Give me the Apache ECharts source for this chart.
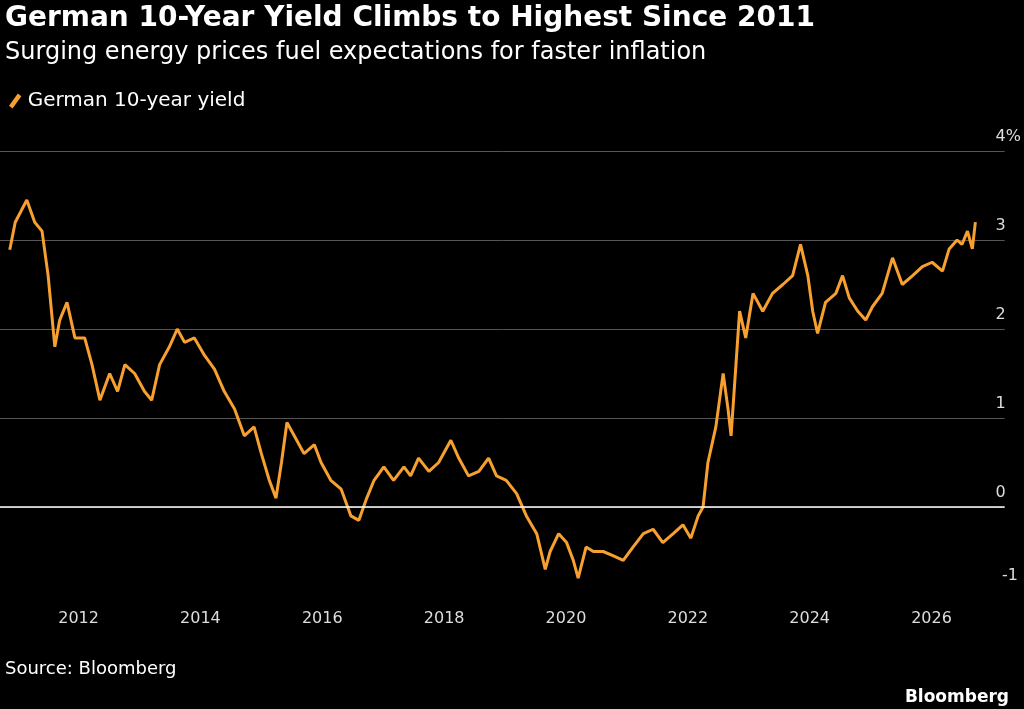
<!DOCTYPE html>
<html><head><meta charset="utf-8">
<script src="https://cdn.jsdelivr.net/npm/echarts@6/dist/echarts.min.js"></script>
<style>body{margin:0;background:#000}#c{width:1024px;height:709px}</style>
</head><body><div id="c"></div>
<script>
// decimal year, yield %
var years = [2010.87,2010.96,2011.15,2011.28,2011.40,2011.50,2011.61,2011.69,2011.81,2011.94,
  2012.10,2012.22,2012.35,2012.51,2012.64,2012.76,2012.92,2013.08,2013.20,2013.33,2013.49,2013.62,
  2013.74,2013.90,2014.07,2014.23,2014.39,2014.56,2014.72,2014.88,2015.00,2015.13,2015.24,2015.33,
  2015.42,2015.54,2015.70,2015.87,2015.98,2016.14,2016.31,2016.47,2016.60,2016.73,2016.85,2017.01,
  2017.17,2017.34,2017.45,2017.58,2017.75,2017.91,2018.11,2018.24,2018.40,2018.57,2018.73,2018.86,
  2019.02,2019.19,2019.35,2019.52,2019.66,2019.74,2019.88,2020.01,2020.12,2020.20,2020.33,2020.45,
  2020.61,2020.78,2020.94,2021.10,2021.27,2021.43,2021.59,2021.76,2021.92,2022.05,2022.17,2022.25,
  2022.33,2022.46,2022.58,2022.66,2022.71,2022.79,2022.85,2022.95,2023.07,2023.23,2023.39,2023.56,
  2023.72,2023.85,2023.97,2024.05,2024.13,2024.26,2024.43,2024.54,2024.65,2024.79,2024.92,2025.03,
  2025.19,2025.36,2025.52,2025.69,2025.85,2026.01,2026.18,2026.29,2026.42,2026.50,2026.59,2026.67,2026.72];
var yields = [2.89,3.2,3.45,3.2,3.1,2.6,1.8,2.1,2.3,1.9,
  1.9,1.6,1.2,1.5,1.3,1.6,1.5,1.3,1.2,1.6,1.8,2.0,
  1.85,1.9,1.7,1.55,1.3,1.1,0.8,0.9,0.6,0.3,0.1,0.5,
  0.95,0.8,0.6,0.7,0.5,0.3,0.2,-0.1,-0.15,0.1,0.3,0.45,
  0.3,0.45,0.35,0.55,0.4,0.5,0.75,0.55,0.35,0.4,0.55,0.35,
  0.3,0.15,-0.1,-0.3,-0.7,-0.5,-0.3,-0.4,-0.6,-0.8,-0.45,-0.5,
  -0.5,-0.55,-0.6,-0.45,-0.3,-0.25,-0.4,-0.3,-0.2,-0.35,-0.1,0.0,
  0.5,0.9,1.5,1.1,0.8,1.6,2.2,1.9,2.4,2.2,2.4,2.5,
  2.6,2.95,2.6,2.2,1.95,2.3,2.4,2.6,2.35,2.2,2.1,2.25,
  2.4,2.8,2.5,2.6,2.7,2.75,2.65,2.9,3.0,2.95,3.1,2.9,3.2];
var xTicks = [2012,2014,2016,2018,2020,2022,2024,2026];

var chart = echarts.init(document.getElementById('c'));
var font = '"DejaVu Sans", "Open Sans", sans-serif';
chart.setOption({
  backgroundColor: '#000',
  animation: false,
  title: [
    {text: 'German 10-Year Yield Climbs to Highest Since 2011', left: 0, top: 0,
     textStyle: {color: '#fff', fontSize: 28, fontWeight: 'bold', fontFamily: font}},
    {text: 'Surging energy prices fuel expectations for faster inflation', left: 0, top: 36,
     textStyle: {color: '#fff', fontSize: 24, fontWeight: 'normal', fontFamily: font}},
    {text: 'Source: Bloomberg', left: 0, top: 655,
     textStyle: {color: '#fff', fontSize: 18, fontWeight: 'normal', fontFamily: font}},
    {text: 'Bloomberg', right: 10, top: 684,
     textStyle: {color: '#fff', fontSize: 17, fontWeight: 'bold', fontFamily: font}}
  ],
  legend: {left: 4, top: 86, itemWidth: 15, itemHeight: 15, itemGap: 6,
    icon: 'path://M0,14 L10,0 L14,3 L4,17 Z',
    textStyle: {color: '#fff', fontSize: 20, fontFamily: font}, data: ['German 10-year yield']},
  grid: {left: 0, right: 16, top: 151, bottom: 113},
  xAxis: {type: 'value', min: 2010.71, max: 2027.2,
    axisLine: {show: false}, splitLine: {show: false}, axisTick: {show: false},
    axisLabel: {customValues: xTicks, color: '#ddd', fontSize: 16, margin: 15, fontFamily: font,
      formatter: function (v) { return String(v); }}},
  yAxis: {type: 'value', position: 'right', min: -1, max: 4, interval: 1,
    axisLine: {show: false}, axisTick: {show: false},
    splitLine: {lineStyle: {color: ['transparent', '#555', '#555', '#555', '#555', '#555'], width: 1}},
    axisLabel: {color: '#ddd', fontSize: 16, fontFamily: font, margin: -9, align: 'left',
      verticalAlign: 'bottom', padding: [0, 0, 6, 0],
      formatter: function (v) { return v === 4 ? '4%' : (v === -1 ? '' : String(v)); }}},
  graphic: [{type: 'text', right: 6, top: 568,
    style: {text: '-1', fill: '#ddd', font: '16px ' + font}}],
  series: [{
    name: 'German 10-year yield', type: 'line', showSymbol: false,
    data: years.map(function (y, i) { return [y, yields[i]]; }),
    lineStyle: {color: '#f7a030', width: 3}, itemStyle: {color: '#f7a030'},
    markLine: {silent: true, symbol: 'none', label: {show: false},
      lineStyle: {color: '#fff', width: 1.5, type: 'solid'}, data: [{yAxis: 0}]}
  }]
});
</script></body></html>
